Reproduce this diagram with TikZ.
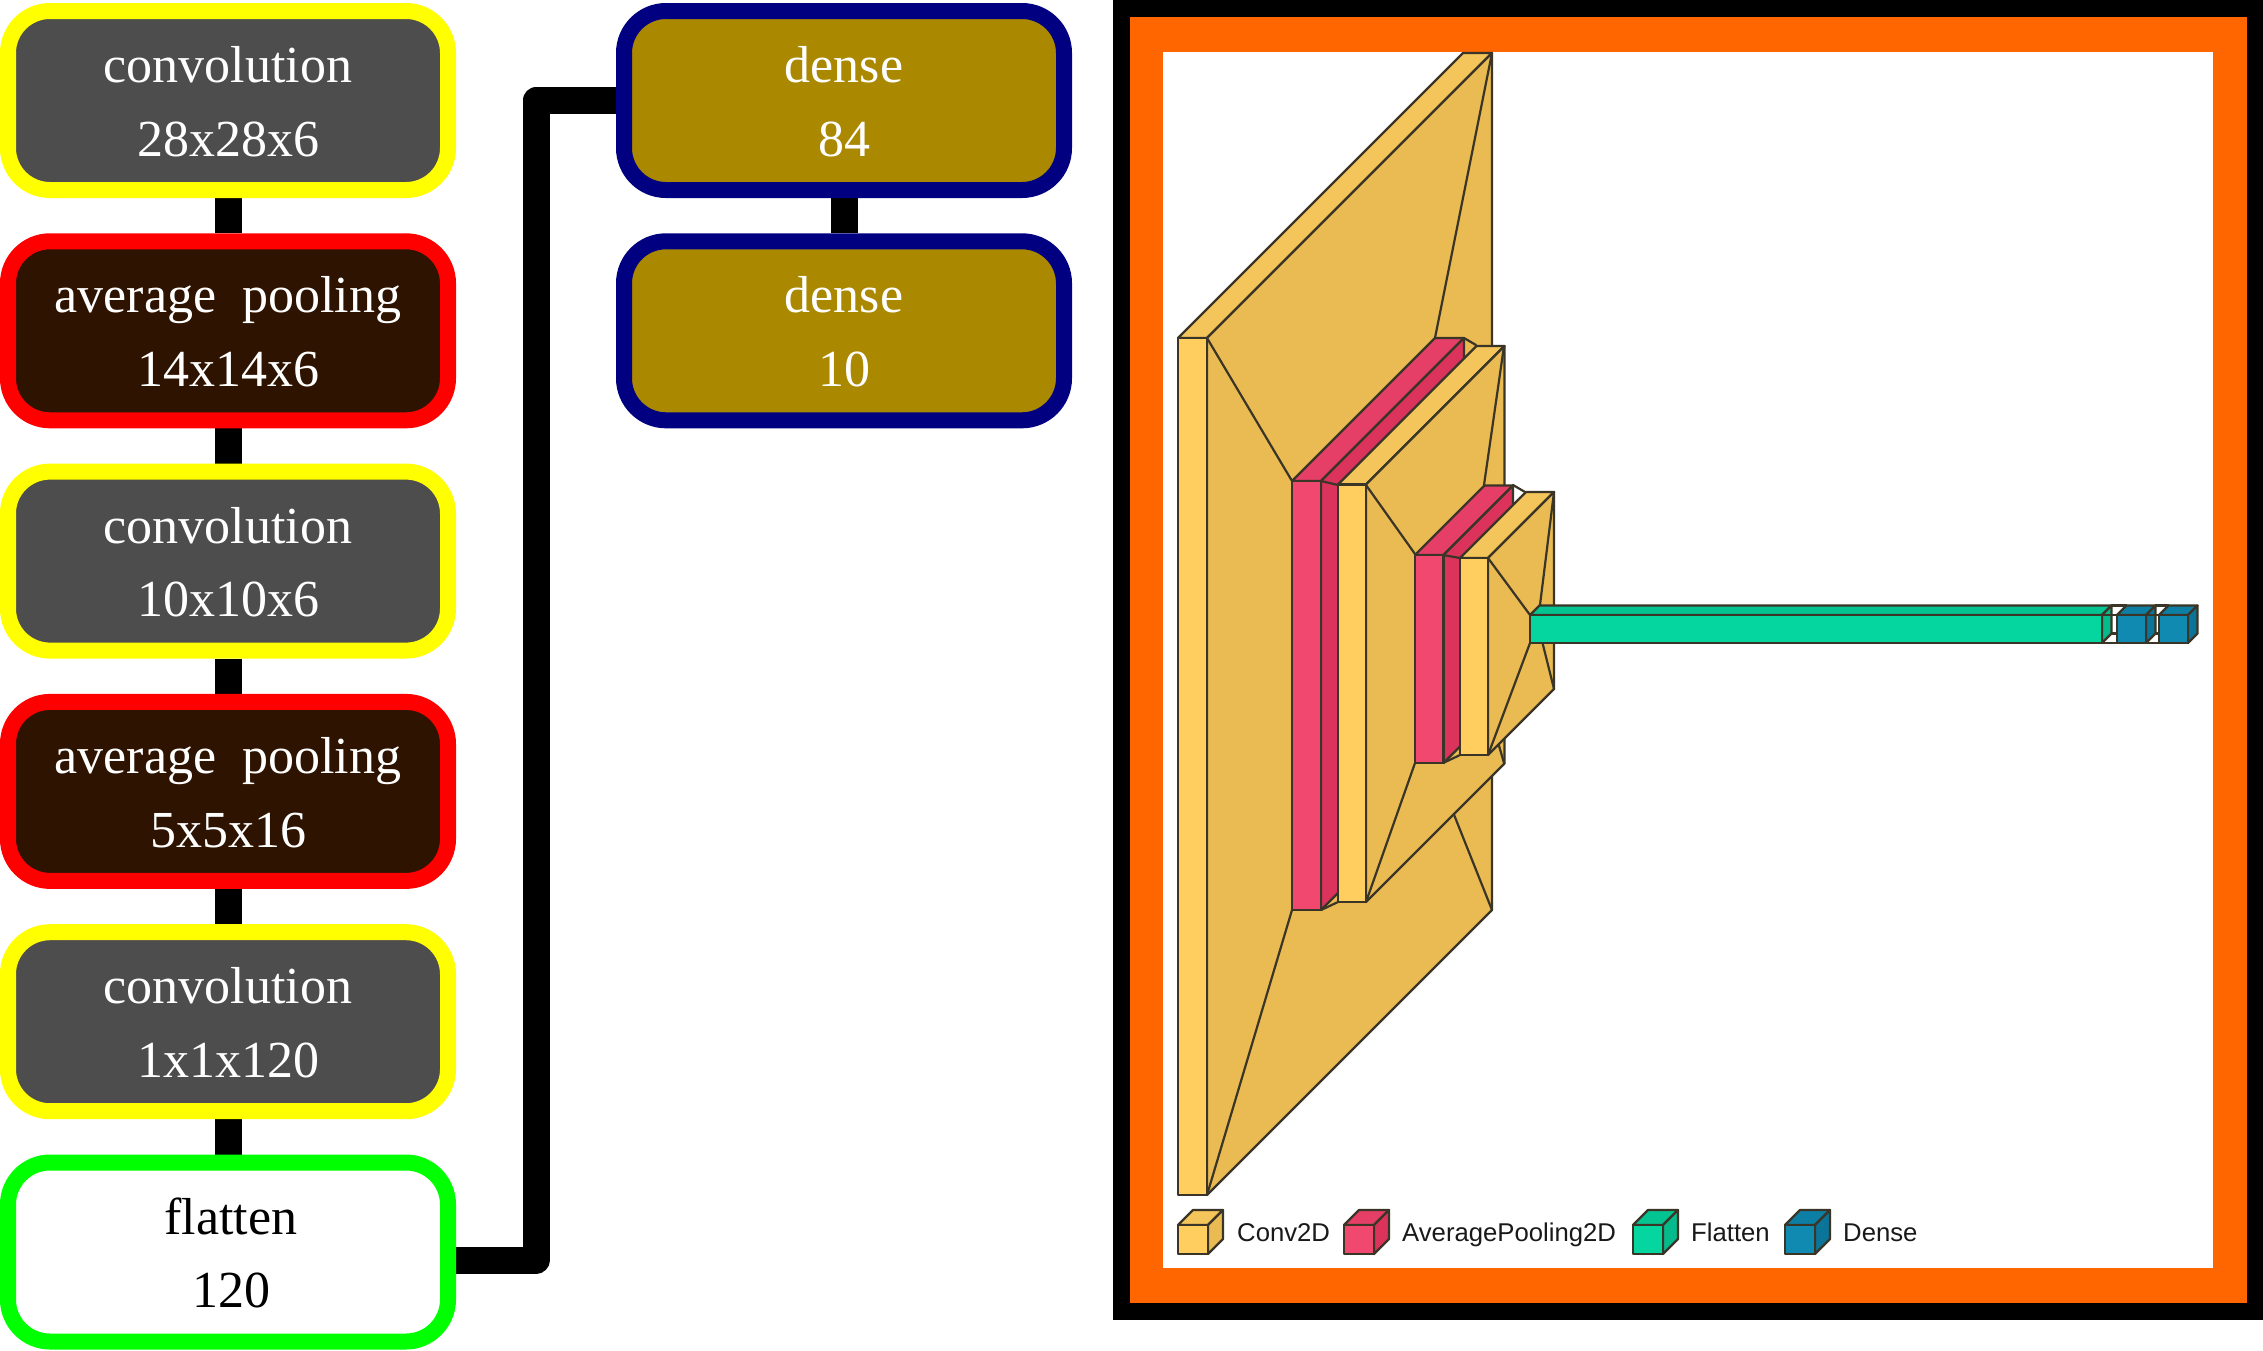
\documentclass[tikz,border=0pt]{standalone}
\usepackage{fontspec}
\usetikzlibrary{backgrounds}
\setmainfont{Liberation Serif}
\newfontfamily\legendfont{Liberation Sans}
\definecolor{cfront}{HTML}{FFCE5F}\definecolor{ctop}{HTML}{F3C55A}\definecolor{cside}{HTML}{E9BB52}
\definecolor{pfront}{HTML}{F14870}\definecolor{ptop}{HTML}{E53F67}\definecolor{pside}{HTML}{DB335C}
\definecolor{ffront}{HTML}{05D6A0}\definecolor{ftop}{HTML}{04C492}\definecolor{fside}{HTML}{05BB8C}
\definecolor{dfront}{HTML}{118AB2}\definecolor{dtop}{HTML}{0D7FA5}\definecolor{dside}{HTML}{0B7599}
\definecolor{edge}{HTML}{3A3526}
\definecolor{layerorange}{HTML}{FF6600}
\definecolor{ryellow}{HTML}{FFFF00}
\definecolor{rred}{HTML}{FF0000}
\definecolor{rgreen}{HTML}{00FF00}
\definecolor{rnavy}{HTML}{000080}
\definecolor{rgray}{HTML}{4D4D4D}
\definecolor{rbrown}{HTML}{2E1300}
\definecolor{rolive}{HTML}{AA8800}
\tikzset{
  layerbox/.style={rounded corners=42pt,line width=16pt,inner sep=0pt,minimum width=440pt,minimum height=179pt,
    align=center,text=white,font=\fontsize{52}{73.6}\selectfont},
  convbox/.style={layerbox,draw=ryellow,fill=rgray},
  poolbox/.style={layerbox,draw=rred,fill=rbrown},
  densebox/.style={layerbox,draw=rnavy,fill=rolive},
  flatbox/.style={layerbox,draw=rgreen,fill=white,text=black},
  bar/.style={line width=27pt,draw=black,line join=round},
  faceline/.style={draw=edge,line width=2.2pt,line join=round},
  funnel/.style={draw=edge,line width=2.2pt,line cap=round},
  legendtext/.style={anchor=base west,inner sep=0pt,text=black!90,font=\legendfont\fontsize{25.7}{30}\selectfont}
}
\newcommand{\twolines}[2]{\rule{0pt}{50pt}#1\\#2\rule[-12.2pt]{0pt}{12.2pt}}
% x y (front top-left), width, height, depth, colour prefix
\newcommand{\vkbox}[6]{%
  \path[fill=#6top,faceline] (#1,#2) -- ++(#5,-#5) -- ++(#3,0) -- ++(-#5,#5) -- cycle;
  \path[fill=#6side,faceline] (#1+#3,#2) -- ++(#5,-#5) -- ++(0,#4) -- ++(-#5,#5) -- cycle;
  \path[fill=#6front,faceline] (#1,#2) rectangle ++(#3,#4);
}
\begin{document}
\begin{tikzpicture}[x=1pt,y=-1pt]
\useasboundingbox (0,0) rectangle (2263,1350);
% panel
\fill[black] (1113,0) rectangle (2263,1320);
\fill[layerorange] (1130,17) rectangle (2247,1303);
\fill[white] (1163,52) rectangle (2213,1268);

\node[convbox] (c1) at (228,100.5) {\twolines{convolution}{28x28x6}};
\node[poolbox] (p1) at (228,330.8) {\twolines{average\ \ pooling}{14x14x6}};
\node[convbox] (c2) at (228,561.1) {\twolines{convolution}{10x10x6}};
\node[poolbox] (p2) at (228,791.4) {\twolines{average\ \ pooling}{5x5x16}};
\node[convbox] (c3) at (228,1021.7) {\twolines{convolution}{1x1x120}};
\node[flatbox] (fl) at (228,1252) {\twolines{\hspace*{6pt}flatten}{\hspace*{6pt}120}};
\node[densebox] (d1) at (844,100.5) {\twolines{dense}{84}};
\node[densebox] (d2) at (844,330.8) {\twolines{dense}{10}};
\begin{pgfonlayer}{background}
\fill[white] (0,0) rectangle (1113,1350);
\draw[bar] (c1) -- (p1);
\draw[bar] (p1) -- (c2);
\draw[bar] (c2) -- (p2);
\draw[bar] (p2) -- (c3);
\draw[bar] (c3) -- (fl);
\draw[bar] (d1) -- (d2);
\draw[bar] ([yshift=-8pt]fl.center) -- ([yshift=-8pt]fl.center -| 536,0) -- (536,0 |- d1.center) -- (d1.center);
\end{pgfonlayer}

% network view
\vkbox{1178}{338}{29}{857}{285}{c}
\draw[funnel] (1207,338)--(1292,481) (1207,1195)--(1292,910) (1492,53)--(1435,338) (1492,910)--(1435,767);
\vkbox{1292}{481}{29}{429}{143}{p}
\draw[funnel] (1321,481)--(1338,485) (1321,910)--(1338,902) (1464,338)--(1476,345);
\vkbox{1338}{484.5}{28}{417.5}{138.5}{c}
\draw[funnel] (1366,485)--(1415,554) (1366,902)--(1415,763) (1504,346)--(1484,485) (1504,763)--(1484,694);
\vkbox{1415}{555}{28.5}{208}{69.5}{p}
\draw[funnel] (1443,555)--(1460,558) (1443,763)--(1460,755) (1513,485)--(1525,492);
\vkbox{1460}{558}{28}{197}{66}{c}
\draw[funnel] (1488,558)--(1530,615) (1488,755)--(1530,643) (1554,492)--(1540,605) (1554,689)--(1540,633);
\vkbox{1530}{615}{572}{28}{9.5}{f}
\draw[funnel] (2102,615)--(2117,615) (2102,643)--(2117,643) (2111.5,605.5)--(2126.5,605.5) (2111.5,633.5)--(2126.5,633.5);
\vkbox{2117}{615}{29}{28}{9.5}{d}
\draw[funnel] (2146,615)--(2159,615) (2146,643)--(2159,643) (2155.5,605.5)--(2168.5,605.5) (2155.5,633.5)--(2168.5,633.5);
\vkbox{2159}{615}{29}{28}{9.5}{d}

% legend
\vkbox{1178}{1225}{30}{29}{15}{c}
\node[legendtext] (l1) at (1237,1241) {Conv2D};
\vkbox{1344}{1225}{30}{29}{15}{p}
\node[legendtext] (l2) at (1402,1241) {AveragePooling2D};
\vkbox{1633}{1225}{30}{29}{15}{f}
\node[legendtext] (l3) at (1691,1241) {Flatten};
\vkbox{1785}{1225}{30}{29}{15}{d}
\node[legendtext] (l4) at (1843,1241) {Dense};
\end{tikzpicture}
\end{document}
